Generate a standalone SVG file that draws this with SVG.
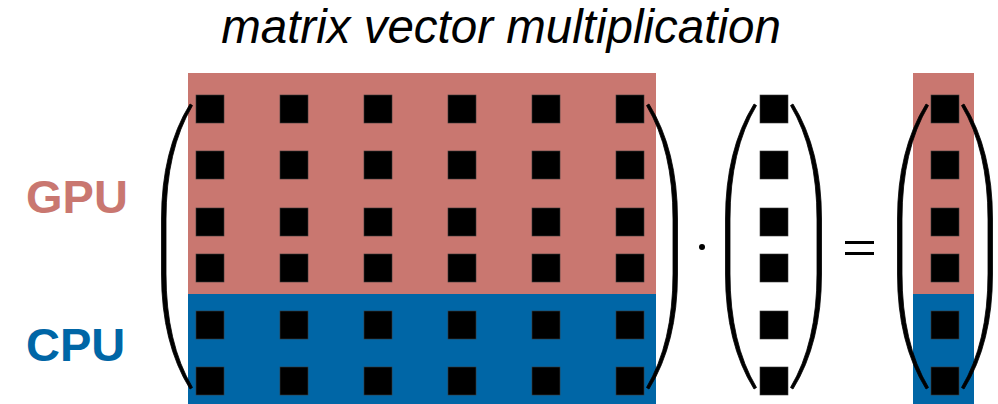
<svg xmlns="http://www.w3.org/2000/svg" xmlns:xlink="http://www.w3.org/1999/xlink" width="998" height="404" viewBox="0 0 998 404">
  <style>
    .gpu { fill: #C97770; }
    .cpu { fill: #0066A6; }
    .sq { fill: #000000; stroke: #3a3a3a; stroke-width: 0.6; }
    .paren { fill: #000000; stroke: #000000; stroke-width: 0.8; stroke-linejoin: round; }
    .lbl { font-family: "Liberation Sans", Arial, sans-serif; font-weight: bold; font-size: 47px; }
    .title { font-family: "Liberation Sans", Arial, sans-serif; font-style: italic; font-size: 47.5px; fill: #000000; }
  </style>
  <defs>
    <path id="lparen" d="M0,104 Q-28.5,150 -28.5,219 L-28.5,274 Q-28.5,343 0,389 L2.5,387.5 Q-24,343 -24,274 L-24,219 Q-24,150 2.5,105.5 Z"/>
    <rect id="s" width="28" height="28"/>
  </defs>

  <g id="title">
    <text class="title" x="501" y="43" text-anchor="middle">matrix vector multiplication</text>
  </g>

  <g id="labels">
    <text class="lbl gpu" x="26" y="213">GPU</text>
    <text class="lbl cpu" x="26" y="361">CPU</text>
  </g>

  <g id="matrix">
    <rect class="gpu" x="188" y="73" width="468" height="221"/>
    <rect class="cpu" x="188" y="294" width="468" height="110"/>
    <g class="sq">
      <use xlink:href="#s" x="196" y="95"/><use xlink:href="#s" x="280" y="95"/><use xlink:href="#s" x="364" y="95"/><use xlink:href="#s" x="448" y="95"/><use xlink:href="#s" x="532" y="95"/><use xlink:href="#s" x="616" y="95"/>
      <use xlink:href="#s" x="196" y="151"/><use xlink:href="#s" x="280" y="151"/><use xlink:href="#s" x="364" y="151"/><use xlink:href="#s" x="448" y="151"/><use xlink:href="#s" x="532" y="151"/><use xlink:href="#s" x="616" y="151"/>
      <use xlink:href="#s" x="196" y="208"/><use xlink:href="#s" x="280" y="208"/><use xlink:href="#s" x="364" y="208"/><use xlink:href="#s" x="448" y="208"/><use xlink:href="#s" x="532" y="208"/><use xlink:href="#s" x="616" y="208"/>
      <use xlink:href="#s" x="196" y="254"/><use xlink:href="#s" x="280" y="254"/><use xlink:href="#s" x="364" y="254"/><use xlink:href="#s" x="448" y="254"/><use xlink:href="#s" x="532" y="254"/><use xlink:href="#s" x="616" y="254"/>
      <use xlink:href="#s" x="196" y="311"/><use xlink:href="#s" x="280" y="311"/><use xlink:href="#s" x="364" y="311"/><use xlink:href="#s" x="448" y="311"/><use xlink:href="#s" x="532" y="311"/><use xlink:href="#s" x="616" y="311"/>
      <use xlink:href="#s" x="196" y="367"/><use xlink:href="#s" x="280" y="367"/><use xlink:href="#s" x="364" y="367"/><use xlink:href="#s" x="448" y="367"/><use xlink:href="#s" x="532" y="367"/><use xlink:href="#s" x="616" y="367"/>
    </g>
    <use class="paren" xlink:href="#lparen" transform="translate(190,0)"/>
    <use class="paren" xlink:href="#lparen" transform="translate(649,0) scale(-1,1)"/>
  </g>

  <g id="dot">
    <circle cx="702" cy="247" r="3" fill="#000000"/>
  </g>

  <g id="vector">
    <g class="sq">
      <use xlink:href="#s" x="760" y="95"/>
      <use xlink:href="#s" x="760" y="151"/>
      <use xlink:href="#s" x="760" y="208"/>
      <use xlink:href="#s" x="760" y="254"/>
      <use xlink:href="#s" x="760" y="311"/>
      <use xlink:href="#s" x="760" y="367"/>
    </g>
    <use class="paren" xlink:href="#lparen" transform="translate(754,0)"/>
    <use class="paren" xlink:href="#lparen" transform="translate(793,0) scale(-1,1)"/>
  </g>

  <g id="equals">
    <rect x="845" y="241" width="29" height="3" fill="#000000"/>
    <rect x="845" y="252" width="29" height="3" fill="#000000"/>
  </g>

  <g id="result">
    <rect class="gpu" x="913" y="73" width="61" height="221"/>
    <rect class="cpu" x="913" y="294" width="61" height="110"/>
    <g class="sq">
      <use xlink:href="#s" x="931" y="95"/>
      <use xlink:href="#s" x="931" y="151"/>
      <use xlink:href="#s" x="931" y="208"/>
      <use xlink:href="#s" x="931" y="254"/>
      <use xlink:href="#s" x="931" y="311"/>
      <use xlink:href="#s" x="931" y="367"/>
    </g>
    <use class="paren" xlink:href="#lparen" transform="translate(926,0)"/>
    <use class="paren" xlink:href="#lparen" transform="translate(964,0) scale(-1,1)"/>
  </g>

  <g id="connectors"></g>
</svg>
